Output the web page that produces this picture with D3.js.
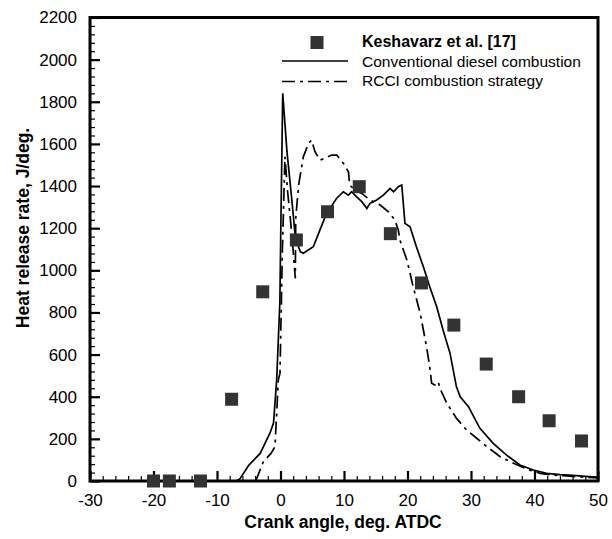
<!DOCTYPE html>
<html><head><meta charset="utf-8">
<script src="https://cdn.jsdelivr.net/npm/d3@7/dist/d3.min.js"></script>
<style>
body{margin:0;background:#fff;}
svg{display:block;font-family:"Liberation Sans",Arial,sans-serif;}
</style></head>
<body><svg id="c" width="612" height="539"></svg>
<script>
// ---- data ----
const xTicks = [-30,-20,-10,0,10,20,30,40,50];
const yTicks = [0,200,400,600,800,1000,1200,1400,1600,1800,2000,2200];
const seriesNames = ["Keshavarz et al. [17]","Conventional diesel combustion","RCCI combustion strategy"];

const expX = [-20.0,-17.5,-12.6,-7.7,-2.8,2.5,7.4,12.4,17.3,22.2,27.3,32.4,37.5,42.3,47.4];
const expY = [0,0,0,388,898,1144,1278,1397,1174,940,740,555,400,286,190];

const dieselX = [-7.0,-6.4,-5.0,-3.2,-1.65,-1.1,-0.6,-0.1,0.05,0.35,1.02,1.81,2.35,3.13,3.6,5.17,6.2,7.27,7.8,8.85,9.9,10.7,11.2,12.0,12.8,13.6,14.1,15.15,16.2,17.25,17.8,18.55,19.1,19.6,20.4,21.4,22.5,23.5,24.6,25.6,26.7,27.7,28.3,29.6,31.4,33.5,35.6,37.7,39.8,41.9,44.0,46.1,48.0,50.0];
const dieselY = [0,10,75,131,228,275,480,850,1200,1840,1563,1326,1153,1088,1081,1112,1191,1271,1294,1342,1373,1357,1373,1349,1326,1294,1318,1334,1357,1389,1373,1397,1405,1223,1207,1112,1017,922,827,717,606,448,400,353,250,179,123,76,52,36,30,27,22,18];

const rcciX = [-3.9,-2.7,-1.5,-0.87,-0.6,-0.35,-0.08,0.3,0.7,1.1,1.6,2.0,2.33,2.4,2.85,3.6,4.4,4.9,5.43,6.2,7.0,8.06,8.85,9.9,10.7,10.9,11.7,12.8,14.1,15.7,17.0,18.0,18.55,18.8,19.9,20.9,22.0,23.0,23.5,23.8,24.3,24.85,25.1,26.2,27.7,29.3,30.9,32.5,34.6,36.7,38.8,40.9,43.0,45.0,47.3,50.0];
const rcciY = [0,92,131,163,321,479,512,1100,1540,1380,1230,1090,962,1247,1405,1539,1602,1618,1563,1523,1532,1547,1547,1508,1468,1405,1381,1365,1334,1310,1278,1239,1191,1144,1049,922,796,637,542,464,456,471,440,369,298,242,203,163,115,84,56,36,28,24,19,15];

// ---- chart ----
const svg = d3.select("#c");
const x = d3.scaleLinear().domain([-30,50]).range([90,598]);
const y = d3.scaleLinear().domain([0,2200]).range([481,17.5]);
const fmt = d => String(d);

const xMinor = d3.range(-30,50.1,2).filter(v=>v%10!==0);
const yMinor = d3.range(0,2200.1,40).filter(v=>v%200!==0);

// minor ticks
svg.append("g").attr("transform","translate(0,481)")
  .call(d3.axisBottom(x).tickValues(xMinor).tickSize(-5).tickFormat(""))
  .call(g=>g.select(".domain").remove())
  .call(g=>g.selectAll("line").attr("stroke","#000").attr("stroke-width",1.2));
svg.append("g").attr("transform","translate(90,0)")
  .call(d3.axisLeft(y).tickValues(yMinor).tickSize(-5).tickFormat(""))
  .call(g=>g.select(".domain").remove())
  .call(g=>g.selectAll("line").attr("stroke","#000").attr("stroke-width",1.2));

// major ticks with labels
const gx = svg.append("g").attr("transform","translate(0,481)")
  .call(d3.axisBottom(x).tickValues(xTicks).tickSize(-10).tickPadding(0).tickFormat(fmt));
gx.select(".domain").remove();
gx.selectAll("line").attr("stroke","#000").attr("stroke-width",2.2);
gx.selectAll("text").attr("y",13).attr("font-size",17).attr("fill","#000")
  .attr("font-family","'Liberation Sans',Arial,sans-serif");

const gy = svg.append("g").attr("transform","translate(90,0)")
  .call(d3.axisLeft(y).tickValues(yTicks).tickSize(-10).tickPadding(0).tickFormat(fmt));
gy.select(".domain").remove();
gy.selectAll("line").attr("stroke","#000").attr("stroke-width",2.2);
gy.selectAll("text").attr("x",-13).attr("font-size",17).attr("fill","#000")
  .attr("font-family","'Liberation Sans',Arial,sans-serif");

// frame
svg.append("rect").attr("x",x(-30)).attr("y",y(2200))
  .attr("width",x(50)-x(-30)).attr("height",y(0)-y(2200))
  .attr("fill","none").attr("stroke","#000").attr("stroke-width",3);

// lines
const line = d3.line().x(d=>x(d[0])).y(d=>y(d[1]));
const dieselData = dieselX.map((v,i)=>[v,dieselY[i]]);
const rcciData = rcciX.map((v,i)=>[v,rcciY[i]]);
svg.append("path").datum(dieselData).attr("d",line)
  .attr("fill","none").attr("stroke","#000").attr("stroke-width",1.7);
svg.append("path").datum(rcciData).attr("d",line)
  .attr("fill","none").attr("stroke","#000").attr("stroke-width",1.7)
  .attr("stroke-dasharray","13,5,3,5");

// experimental squares
const sz = 13;
svg.append("g").selectAll("rect").data(expX.map((v,i)=>[v,expY[i]])).join("rect")
  .attr("x",d=>x(d[0])-sz/2).attr("y",d=>y(d[1])-sz/2)
  .attr("width",sz).attr("height",sz).attr("fill","#333");

// legend
const lg = svg.append("g");
lg.append("rect").attr("x",317-6.5).attr("y",42.5-6.5).attr("width",13).attr("height",13).attr("fill","#333");
lg.append("text").attr("x",362).attr("y",47).attr("font-size",16).attr("font-weight","bold").text(seriesNames[0]);
lg.append("line").attr("x1",282).attr("x2",348).attr("y1",61).attr("y2",61).attr("stroke","#000").attr("stroke-width",1.7);
lg.append("text").attr("x",362).attr("y",66.5).attr("font-size",15.5).text(seriesNames[1]);
lg.append("line").attr("x1",282).attr("x2",348).attr("y1",81.5).attr("y2",81.5).attr("stroke","#000").attr("stroke-width",1.7)
  .attr("stroke-dasharray","13,5,3,5");
lg.append("text").attr("x",362).attr("y",86).attr("font-size",15.5).text(seriesNames[2]);

// axis titles
svg.append("text").attr("x",343).attr("y",528).attr("text-anchor","middle")
  .attr("font-size",17.5).attr("font-weight","bold").text("Crank angle, deg. ATDC");
svg.append("text").attr("transform","translate(29,228) rotate(-90)").attr("text-anchor","middle")
  .attr("font-size",17.5).attr("font-weight","bold").text("Heat release rate, J/deg.");
</script></body></html>
